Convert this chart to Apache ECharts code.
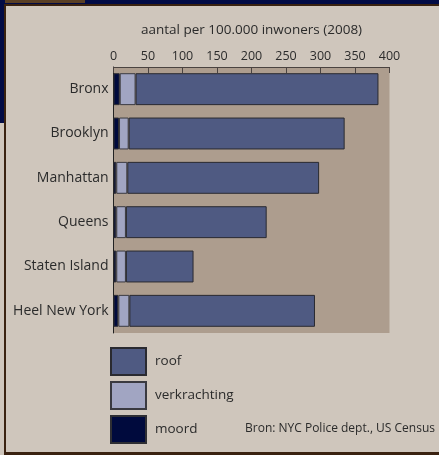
<!DOCTYPE html>
<html>
<head>
<meta charset="utf-8">
<script src="https://cdn.jsdelivr.net/npm/echarts@6/dist/echarts.min.js"></script>
<style>
html, body { margin: 0; padding: 0; background: #cfc6bc; }
#chartContainer { width: 439px; height: 455px; }
</style>
</head>
<body>
<div id="chartContainer"></div>
<script>
// stadsdelen
var categories = ['Bronx', 'Brooklyn', 'Manhattan', 'Queens', 'Staten Island', 'Heel New York'];
// aantal per 100.000 inwoners (2008)
var moord = [9, 8, 4, 4, 4, 7];
var verkrachting = [23, 14, 16, 14, 14, 16];
var roof = [352, 313, 278, 204, 98, 269];
var xTicks = [0, 50, 100, 150, 200, 250, 300, 350, 400];

/**
 * misdaad per stadsdeel
 */
var nycChart = {
	init: function () {
		nycChart.showChart();
	},
	showChart: function () {
		var myChart = echarts.init(document.getElementById('chartContainer'));
		var font = '"Open Sans", Lato, sans-serif';
		var option = {
			backgroundColor: '#cfc6bc',
			textStyle: { fontFamily: font },
			animation: false,
			grid: {
				left: 113.5, right: 49.5, top: 67, height: 266,
				show: true, backgroundColor: '#ad9d8e', borderWidth: 0
			},
			legend: {
				orient: 'vertical',
				left: 110, top: 347, padding: 0,
				itemWidth: 35, itemHeight: 27, itemGap: 5,
				icon: 'rect',
				data: ['roof', 'verkrachting', 'moord'],
				textStyle: { fontSize: 13.5, color: '#2b2b2b', fontFamily: font, padding: [0, 0, 0, 4] }
			},
			xAxis: {
				type: 'value',
				position: 'top',
				min: xTicks[0], max: xTicks[xTicks.length - 1], interval: 50,
				name: 'aantal per 100.000 inwoners (2008)',
				nameLocation: 'middle', nameGap: 30,
				nameTextStyle: { fontSize: 13.5, color: '#2b2b2b' },
				axisLine: { show: true, lineStyle: { color: '#4a4340', width: 1 } },
				axisTick: { show: true, inside: true, length: 6, lineStyle: { color: '#4a4340' } },
				axisLabel: { fontSize: 12.5, color: '#2b2b2b', margin: 4 },
				splitLine: { show: false }
			},
			yAxis: {
				type: 'category',
				inverse: true,
				data: categories,
				axisLine: { show: true, lineStyle: { color: '#222', width: 1 } },
				axisTick: { show: false },
				axisLabel: { fontSize: 14, color: '#2b2b2b', margin: 5 }
			},
			series: [
				{ name: 'moord', type: 'bar', stack: 'tot', data: moord, barCategoryGap: '28%',
					itemStyle: { color: '#000a3d', borderColor: '#2e2e33', borderWidth: 1 } },
				{ name: 'verkrachting', type: 'bar', stack: 'tot', data: verkrachting,
					itemStyle: { color: '#a1a5c2', borderColor: '#3a3a40', borderWidth: 1 } },
				{ name: 'roof', type: 'bar', stack: 'tot', data: roof,
					itemStyle: { color: '#4f5a82', borderColor: '#2a2a30', borderWidth: 1 } }
			],
			graphic: [
				{ type: 'rect', shape: { x: 0, y: 0, width: 439, height: 4 }, style: { fill: '#020b45' } },
				{ type: 'rect', shape: { x: 0, y: 0, width: 85, height: 3 }, style: { fill: '#5a3f24' } },
				{ type: 'rect', shape: { x: 0, y: 0, width: 5, height: 123 }, style: { fill: '#020b45' } },
				{ type: 'rect', shape: { x: 5, y: 4, width: 434, height: 2 }, style: { fill: '#3a2210' } },
				{ type: 'rect', shape: { x: 4, y: 4, width: 2, height: 451 }, style: { fill: '#3a2210' } },
				{ type: 'rect', shape: { x: 4, y: 452, width: 435, height: 3 }, style: { fill: '#3a2210' } },
				{ type: 'text', left: 245, top: 423,
					style: { text: 'Bron: NYC Police dept., US Census', fill: '#2b2b2b', font: '12px ' + font } }
			]
		};
		myChart.setOption(option);
	}
};

nycChart.init();
</script>
</body>
</html>
